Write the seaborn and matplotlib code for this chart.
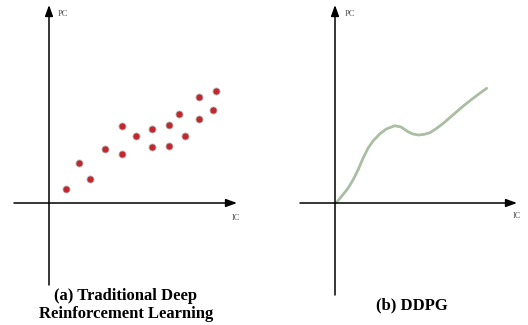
import numpy as np
import pandas as pd
import matplotlib
matplotlib.use("Agg")
import matplotlib.pyplot as plt
import seaborn as sns

# Panel (a): scatter points (IC, PC)
ic_a = [17.3, 30.3, 41, 56, 73.3, 73.3, 87, 103.3, 103.3, 120, 120, 130, 136, 150, 150, 164, 166.7]
pc_a = [14, 39.7, 24.3, 53.7, 77, 49.3, 67.3, 74, 55.7, 77.7, 57, 88.7, 67, 106, 84, 92.7, 112.3]

# Panel (b): DDPG curve (IC, PC)
ic_b = [1.3, 6.3, 13, 18, 23, 28, 33, 38, 44.7, 51.3, 59.7, 66, 73, 78, 83.3, 89, 95,
        101.5, 108.3, 115, 121.7, 128.3, 135, 143.5, 151.7]
pc_b = [0.3, 6.3, 14.7, 23, 33, 44.7, 54.7, 62, 69, 74, 77.3, 76, 71.3, 69, 68, 68.6, 70.3,
        74.5, 79.7, 85.5, 91.3, 97, 102.3, 108.8, 114.7]

titles = ["(a) Traditional Deep\nReinforcement Learning", "(b) DDPG"]
axis_x_label = "IC"
axis_y_label = "PC"

sns.set_theme(style="white")
plt.rcParams["font.family"] = ["Liberation Serif", "DejaVu Serif"]
plt.rcParams["text.color"] = "black"

W, H = 528, 325
fig = plt.figure(figsize=(W / 100, H / 100), dpi=100)

def make_ax(left_px, origin_x_px, origin_y_px):
    ax = fig.add_axes([left_px / W, 0, 264 / W, 1])
    ax.set_xlim(left_px - origin_x_px, left_px + 264 - origin_x_px)
    ax.set_ylim(-(H - origin_y_px), origin_y_px)
    ax.set_axis_off()
    return ax

def draw_axes(ax, xmin, xmax, ymin, ymax):
    arrow = dict(arrowstyle="-|>,head_length=0.55,head_width=0.2", color="black", lw=1.1,
                 shrinkA=0, shrinkB=0)
    ax.annotate("", xy=(xmax, 0), xytext=(xmin, 0), arrowprops=arrow)
    ax.annotate("", xy=(0, ymax), xytext=(0, ymin), arrowprops=arrow)

# Left panel
axa = make_ax(0, 49, 203)
draw_axes(axa, -35, 188, -82, 198)
df_a = pd.DataFrame({"IC": ic_a, "PC": pc_a})
sns.scatterplot(data=df_a, x="IC", y="PC", ax=axa, s=26, color="#c1272d",
                edgecolor="#b8b8b8", linewidth=0.6, zorder=3)
axa.set_axis_off()
axa.text(9, 189, axis_y_label, fontsize=6, color="#555555", ha="left", va="center")
axa.text(183, -15, axis_x_label, fontsize=6, color="#555555", ha="left", va="center")
axa.text(77, -102, titles[0], fontsize=12, fontweight="bold", ha="center", va="center",
         linespacing=1.1, color="black")

# Right panel
axb = make_ax(264, 335, 203)
draw_axes(axb, -35, 182, -92, 198)
df_b = pd.DataFrame({"IC": ic_b, "PC": pc_b})
sns.lineplot(data=df_b, x="IC", y="PC", ax=axb, color="#a9bea3", linewidth=2.0,
             sort=False, estimator=None)
axb.set_axis_off()
axb.text(10, 189, axis_y_label, fontsize=6, color="#555555", ha="left", va="center")
axb.text(178, -13, axis_x_label, fontsize=6, color="#555555", ha="left", va="center")
axb.text(77, -102, titles[1], fontsize=12, fontweight="bold", ha="center", va="center",
         color="black")

fig.savefig("out.png", dpi=100)
